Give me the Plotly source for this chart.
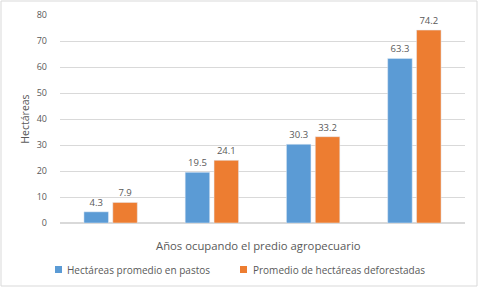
import plotly.graph_objects as go

categories = ["G1", "G2", "G3", "G4"]
pastos = [4.3, 19.5, 30.3, 63.3]
deforestadas = [7.9, 24.1, 33.2, 74.2]
series_names = ["Hectáreas promedio en pastos", "Promedio de hectáreas deforestadas"]
colors = ["#5B9BD5", "#ED7D31"]
y_ticks = [0, 10, 20, 30, 40, 50, 60, 70, 80]

W, H = 479, 288
L, R, T, B = 60, 14, 15, 65
pw, ph = W - L - R, H - T - B
font_family = "Open Sans, sans-serif"
gray = "#595959"


def px(x):
    return (x - L) / pw


def py(y):
    return (H - B - y) / ph


fig = go.Figure()
for vals, name, col in zip([pastos, deforestadas], series_names, colors):
    fig.add_trace(go.Bar(x=categories, y=vals, name=name, marker_color=col,
                         text=[f"{v:.1f}" for v in vals], textposition="outside",
                         textfont=dict(size=9.5, color=gray, family=font_family),
                         cliponaxis=False, showlegend=False))

shapes = [dict(type="rect", xref="paper", yref="paper",
               x0=px(1), x1=px(W - 2), y0=py(H - 2), y1=py(1),
               line=dict(color="#D9D9D9", width=1), layer="below")]
annotations = []
legend_pos = [(55, 65), (240, 251)]
for (sx, tx), name, col in zip(legend_pos, series_names, colors):
    shapes.append(dict(type="rect", xref="paper", yref="paper",
                       x0=px(sx), x1=px(sx + 7), y0=py(273), y1=py(266),
                       fillcolor=col, line=dict(width=0)))
    annotations.append(dict(text=name, xref="paper", yref="paper", x=px(tx), y=py(269.5),
                            xanchor="left", yanchor="middle", showarrow=False,
                            font=dict(size=10, color=gray, family=font_family)))
annotations.append(dict(text="Años ocupando el predio agropecuario", xref="paper", yref="paper",
                        x=px(258.5), y=py(245.5), xanchor="center", yanchor="middle", showarrow=False,
                        font=dict(size=11.3, color=gray, family=font_family)))

fig.update_layout(
    width=W, height=H,
    margin=dict(l=L, r=R, t=T, b=B, autoexpand=False),
    paper_bgcolor="white", plot_bgcolor="white",
    font=dict(family=font_family, size=9, color=gray),
    barmode="group", bargap=0.43, bargroupgap=0.15,
    showlegend=False,
    xaxis=dict(showticklabels=False, showgrid=False, zeroline=False, showline=False, automargin=False),
    yaxis=dict(range=[0, 80], tickvals=y_ticks, showgrid=True, gridcolor="#D9D9D9", gridwidth=1,
               zeroline=True, zerolinecolor="#D9D9D9", showline=False, automargin=False,
               ticklabelstandoff=12, tickfont=dict(size=9, color=gray),
               title=dict(text="Hectáreas", font=dict(size=10.5, color=gray), standoff=5)),
    shapes=shapes,
    annotations=annotations,
)

fig.write_html("out.html", config={"displayModeBar": False},
               post_script="document.body.style.margin='0';")
